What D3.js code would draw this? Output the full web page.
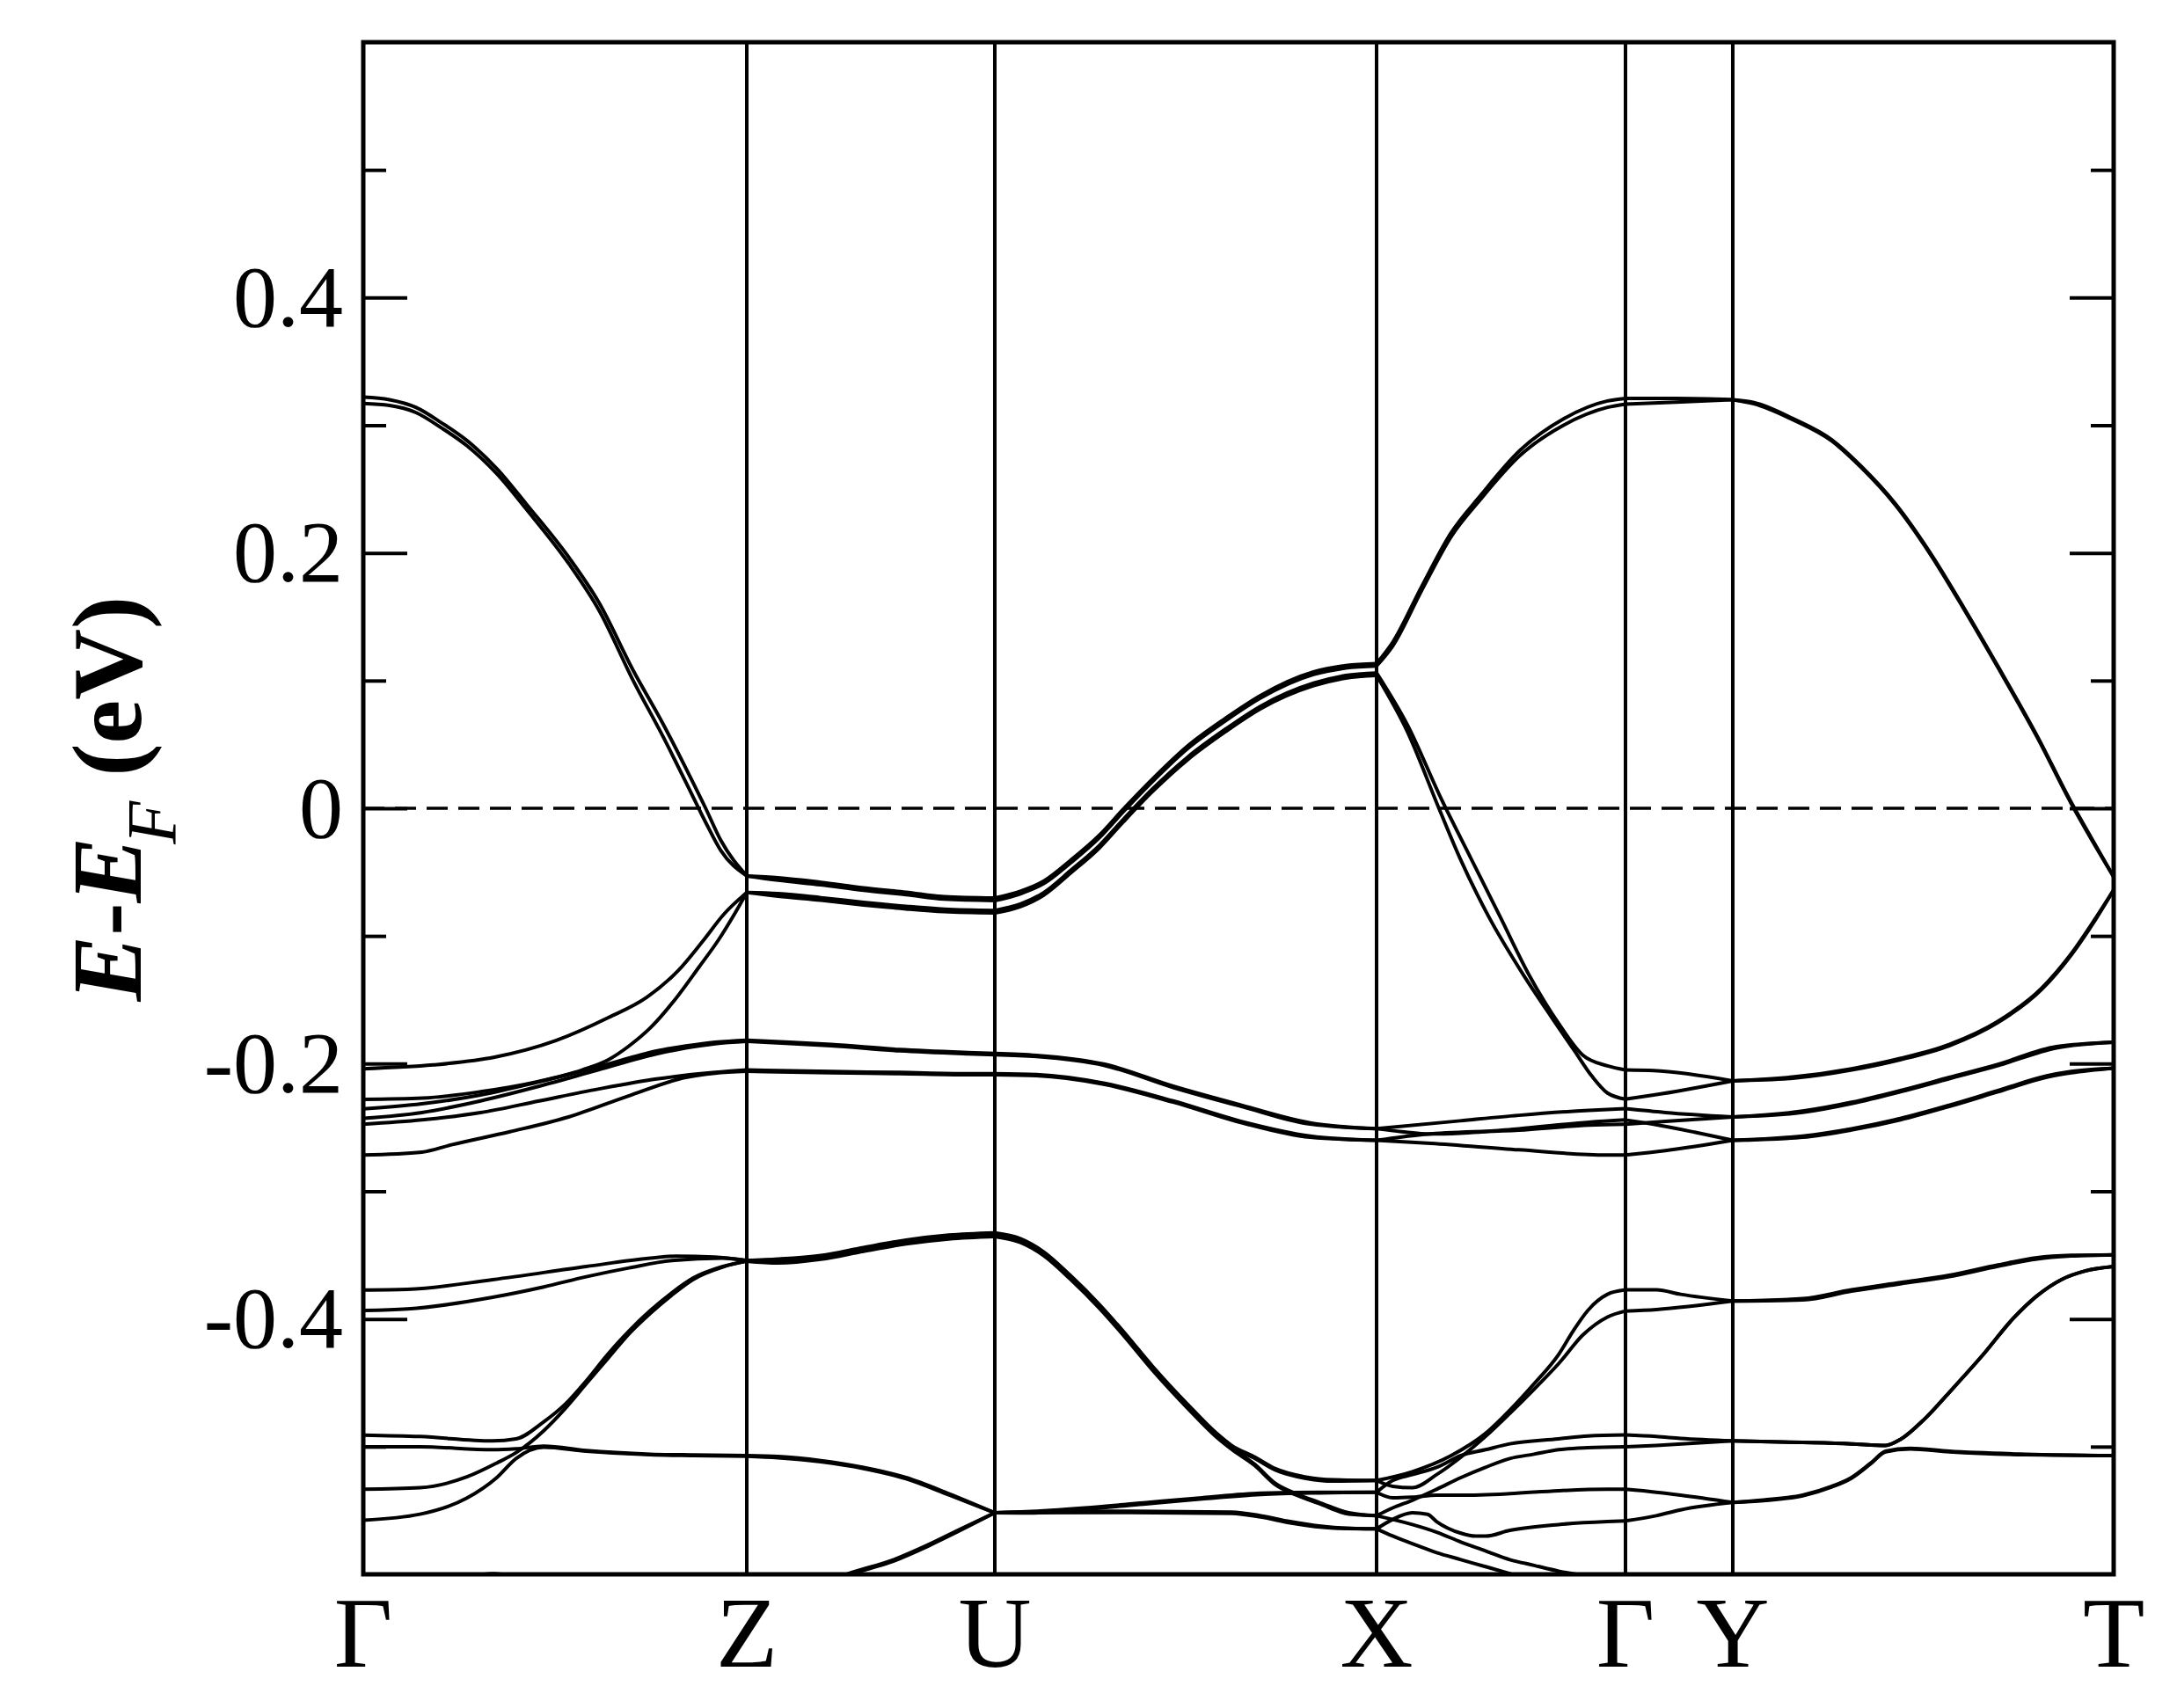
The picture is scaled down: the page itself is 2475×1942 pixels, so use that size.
<!DOCTYPE html>
<html><head><meta charset="utf-8">
<script src="https://cdn.jsdelivr.net/npm/d3@7"></script>
<style>html,body{margin:0;padding:0;background:#fff;} svg{display:block;}</style>
</head><body>
<svg id="chart" width="2475" height="1942"></svg>
<script>
// ---- data ----
const kPoints = [0, 0.2191, 0.3608, 0.5789, 0.7211, 0.7824, 1.0];
const kLabels = ["\u0393", "Z", "U", "X", "\u0393", "Y", "T"];
const energyRange = [-0.6, 0.6];
const yMajorTicks = [-0.6, -0.4, -0.2, 0, 0.2, 0.4, 0.6];
const yLabelTicks = [-0.4, -0.2, 0, 0.2, 0.4];
const yTickLabels = ["-0.4", "-0.2", "0", "0.2", "0.4"];
const yMinorTicks = [-0.5, -0.3, -0.1, 0.1, 0.3, 0.5];
const fermiLevel = 0;

const band01 = [[0,0.322],[0.015,0.320],[0.030,0.314],[0.0446,0.302],[0.0592,0.288],[0.0763,0.266],[0.0933,0.238],[0.1177,0.196],[0.1347,0.161],[0.1542,0.108],[0.1713,0.066],[0.1859,0.027],[0.1956,0.0],[0.2042,-0.025],[0.2191,-0.053],
[0.237,-0.0544],[0.2614,-0.058],[0.2858,-0.0623],[0.3101,-0.0657],[0.332,-0.0692],[0.3608,-0.0703],
[0.3754,-0.065],[0.3888,-0.057],[0.4039,-0.041],[0.4206,-0.021],[0.434,-0.001],[0.4508,0.0228],[0.4709,0.0487],[0.4926,0.0705],[0.5127,0.0884],[0.5429,0.1068],[0.5613,0.1118],[0.5789,0.1134],
[0.5881,0.130],[0.6048,0.174],[0.6216,0.216],[0.6383,0.245],[0.6606,0.280],[0.6857,0.305],[0.7108,0.319],[0.7211,0.321],
[0.75,0.321],[0.7824,0.320],
[0.7945,0.3178],[0.8167,0.3053],[0.839,0.2886],[0.8558,0.2678],[0.8753,0.2385],[0.8948,0.2009],[0.9144,0.1571],[0.9339,0.1112],[0.9562,0.0569],[0.9757,0.0048],[0.9869,-0.0224],[1.0,-0.0537]];

const band02 = [[0,0.317],[0.015,0.3155],[0.030,0.310],[0.0446,0.298],[0.0592,0.284],[0.0763,0.262],[0.0933,0.234],[0.1177,0.191],[0.1347,0.155],[0.1542,0.100],[0.1713,0.056],[0.1859,0.016],[0.1956,-0.011],[0.2042,-0.033],[0.2191,-0.053],
[0.237,-0.0564],[0.2614,-0.060],[0.2858,-0.0643],[0.3101,-0.0677],[0.332,-0.0712],[0.3608,-0.0723],
[0.3754,-0.067],[0.3888,-0.059],[0.4039,-0.043],[0.4206,-0.023],[0.434,-0.003],[0.4508,0.0208],[0.4709,0.0467],[0.4926,0.0685],[0.5127,0.0864],[0.5429,0.1048],[0.5613,0.1098],[0.5789,0.1114],
[0.5881,0.127],[0.6048,0.171],[0.6216,0.213],[0.6383,0.242],[0.6606,0.276],[0.6857,0.300],[0.7108,0.314],[0.7211,0.3166],
[0.75,0.318],[0.7824,0.320],
[0.7945,0.3168],[0.8167,0.3043],[0.839,0.2876],[0.8558,0.2668],[0.8753,0.2375],[0.8948,0.1999],[0.9144,0.1561],[0.9339,0.1102],[0.9562,0.0559],[0.9757,0.0038],[0.9869,-0.0234],[1.0,-0.0537]];

const band03 = [[0,-0.204],[0.04,-0.201],[0.075,-0.195],[0.11,-0.182],[0.14,-0.164],[0.162,-0.148],[0.18,-0.127],[0.194,-0.104],[0.206,-0.083],[0.2191,-0.066],
[0.237,-0.0669],[0.2614,-0.070],[0.2858,-0.0737],[0.3101,-0.0768],[0.332,-0.079],[0.3608,-0.080],
[0.3754,-0.075],[0.3888,-0.066],[0.4039,-0.049],[0.4206,-0.029],[0.434,-0.009],[0.4508,0.015],[0.4709,0.040],[0.4926,0.062],[0.5127,0.080],[0.5429,0.098],[0.5613,0.104],[0.5789,0.106],
[0.5965,0.0653],[0.616,0.0069],[0.6327,-0.039],[0.6495,-0.085],[0.6662,-0.131],[0.6829,-0.1685],[0.6969,-0.1936],[0.7108,-0.2018],[0.7211,-0.205],
[0.7372,-0.2055],[0.7824,-0.2135],
[0.8166,-0.2105],[0.8503,-0.204],[0.8779,-0.196],[0.906,-0.185],[0.9337,-0.167],[0.9588,-0.141],[0.9757,-0.114],[0.9897,-0.086],[1.0,-0.064]];

const band04 = [[0,-0.228],[0.034,-0.227],[0.067,-0.222],[0.100,-0.214],[0.125,-0.205],[0.140,-0.197],[0.152,-0.186],[0.164,-0.172],[0.178,-0.150],[0.192,-0.124],[0.203,-0.103],[0.212,-0.083],[0.2191,-0.066],
[0.237,-0.0689],[0.2614,-0.072],[0.2858,-0.0757],[0.3101,-0.0788],[0.332,-0.081],[0.3608,-0.082],
[0.3754,-0.077],[0.3888,-0.068],[0.4039,-0.051],[0.4206,-0.031],[0.434,-0.011],[0.4508,0.013],[0.4709,0.038],[0.4926,0.060],[0.5127,0.078],[0.5429,0.096],[0.5613,0.102],[0.5789,0.104],
[0.5965,0.060],[0.6145,0.0],[0.6265,-0.039],[0.643,-0.085],[0.663,-0.131],[0.679,-0.164],[0.692,-0.190],[0.702,-0.210],[0.7108,-0.223],[0.7211,-0.2278],
[0.7372,-0.2246],[0.7824,-0.2135],
[0.8166,-0.2115],[0.8503,-0.205],[0.8779,-0.197],[0.906,-0.186],[0.9337,-0.168],[0.9588,-0.142],[0.9757,-0.115],[0.9897,-0.087],[1.0,-0.064]];

const band05 = [[0,-0.2354],[0.0335,-0.2315],[0.067,-0.2246],[0.1005,-0.2142],[0.134,-0.2027],[0.1675,-0.1901],[0.1843,-0.1862],[0.201,-0.1832],[0.2191,-0.1816],
[0.2437,-0.1832],[0.2672,-0.185],[0.3063,-0.189],[0.3454,-0.1913],[0.3608,-0.192],
[0.3845,-0.1935],[0.4236,-0.2005],[0.4627,-0.2177],[0.5018,-0.2326],[0.541,-0.2464],[0.5789,-0.251],
[0.6266,-0.2448],[0.6601,-0.2405],[0.7003,-0.2366],[0.7211,-0.2353],
[0.7439,-0.2383],[0.7824,-0.2418],
[0.8223,-0.2372],[0.8502,-0.2303],[0.8781,-0.2211],[0.906,-0.2108],[0.9339,-0.2005],[0.9673,-0.1867],[1.0,-0.1832]];

const band06 = [[0,-0.2429],[0.0335,-0.2383],[0.067,-0.2292],[0.1005,-0.2177],[0.134,-0.205],[0.1675,-0.1924],[0.1843,-0.1878],[0.201,-0.1844],[0.2191,-0.1826],
[0.2437,-0.1842],[0.2672,-0.186],[0.3063,-0.190],[0.3454,-0.1923],[0.3608,-0.193],
[0.3845,-0.1945],[0.4236,-0.2015],[0.4627,-0.2187],[0.5018,-0.2336],[0.541,-0.2474],[0.5789,-0.251],
[0.5932,-0.2533],[0.6099,-0.2551],[0.6266,-0.2545],[0.6601,-0.251],[0.7003,-0.2459],[0.7211,-0.2441],
[0.7372,-0.2475],[0.7605,-0.2537],[0.7824,-0.2601],
[0.8223,-0.2567],[0.8502,-0.251],[0.8781,-0.243],[0.906,-0.2326],[0.9339,-0.2211],[0.9618,-0.2096],[0.9757,-0.2062],[1.0,-0.2035]];

const band07 = [[0,-0.2475],[0.0335,-0.2441],[0.067,-0.2384],[0.1005,-0.2292],[0.134,-0.22],[0.1675,-0.212],[0.201,-0.2069],[0.2191,-0.205],
[0.2672,-0.2062],[0.3063,-0.2069],[0.3454,-0.2078],[0.3608,-0.2078],
[0.3845,-0.2085],[0.4236,-0.2154],[0.4627,-0.2292],[0.5018,-0.2453],[0.541,-0.2567],[0.5789,-0.2601],
[0.5932,-0.2574],[0.6099,-0.2551],[0.6601,-0.2521],[0.7003,-0.2482],[0.7211,-0.2475],
[0.7439,-0.2452],[0.7824,-0.2418],
[0.8223,-0.2382],[0.8502,-0.2313],[0.8781,-0.2221],[0.906,-0.2118],[0.9339,-0.2015],[0.9673,-0.1877],[1.0,-0.1832]];

const band08 = [[0,-0.2716],[0.0335,-0.2693],[0.0503,-0.2636],[0.0838,-0.2533],[0.1173,-0.2418],[0.1508,-0.2257],[0.1843,-0.2108],[0.201,-0.2075],[0.2191,-0.206],
[0.2672,-0.2072],[0.3063,-0.2079],[0.3454,-0.2088],[0.3608,-0.2088],
[0.3845,-0.2095],[0.4236,-0.2164],[0.4627,-0.2302],[0.5018,-0.2463],[0.541,-0.2577],[0.5789,-0.2601],
[0.6099,-0.2624],[0.6601,-0.2675],[0.7104,-0.2716],[0.7211,-0.2716],
[0.7439,-0.2682],[0.7824,-0.2601],
[0.8223,-0.2577],[0.8502,-0.252],[0.8781,-0.244],[0.906,-0.2336],[0.9339,-0.2221],[0.9618,-0.2106],[0.9757,-0.2072],[1.0,-0.2035]];

const band09 = [[0,-0.3773],[0.0252,-0.3768],[0.0739,-0.3692],[0.1274,-0.3589],[0.164,-0.3524],[0.1786,-0.3508],[0.2005,-0.3515],[0.2191,-0.3543],
[0.237,-0.3531],[0.2614,-0.3502],[0.2858,-0.344],[0.3101,-0.3382],[0.3345,-0.3343],[0.3608,-0.3325],
[0.3754,-0.3371],[0.3887,-0.3474],[0.4039,-0.3658],[0.4206,-0.3887],[0.434,-0.4094],[0.4508,-0.4369],[0.4709,-0.4668],[0.4876,-0.4897],[0.496,-0.499],[0.5094,-0.5082],[0.5211,-0.5173],[0.5379,-0.5237],[0.5546,-0.526],[0.5789,-0.5265],
[0.5993,-0.5196],[0.6215,-0.507],[0.6411,-0.4897],[0.655,-0.4714],[0.6689,-0.4507],[0.6829,-0.4278],[0.6912,-0.4094],[0.6996,-0.3933],[0.7108,-0.3807],[0.7211,-0.3772],
[0.7387,-0.3772],[0.7526,-0.3807],[0.7824,-0.386],
[0.8223,-0.3841],[0.8502,-0.3772],[0.8781,-0.3715],[0.906,-0.3658],[0.9339,-0.3577],[0.9562,-0.352],[0.9757,-0.3502],[1.0,-0.3497]];

const band10 = [[0,-0.3934],[0.0252,-0.3922],[0.0739,-0.383],[0.1031,-0.3749],[0.1274,-0.3669],[0.1518,-0.36],[0.1762,-0.3543],[0.2054,-0.3524],[0.2191,-0.3543],
[0.237,-0.3541],[0.2614,-0.3512],[0.2858,-0.345],[0.3101,-0.3392],[0.3345,-0.3353],[0.3608,-0.3335],
[0.3754,-0.3381],[0.3887,-0.3484],[0.4039,-0.3668],[0.4206,-0.3897],[0.434,-0.4104],[0.4508,-0.4379],[0.4709,-0.4678],[0.4876,-0.4907],[0.496,-0.5],[0.5094,-0.5092],[0.5211,-0.5183],[0.5379,-0.5247],[0.5546,-0.527],[0.5789,-0.5265],
[0.5881,-0.5311],[0.5993,-0.5322],[0.6132,-0.5219],[0.6271,-0.5082],[0.6411,-0.4921],[0.655,-0.474],[0.6689,-0.455],[0.6829,-0.435],[0.6968,-0.4125],[0.7108,-0.3985],[0.7211,-0.3938],
[0.7387,-0.3926],[0.7824,-0.386],
[0.8223,-0.3851],[0.8502,-0.3782],[0.8781,-0.3725],[0.906,-0.3668],[0.9339,-0.3587],[0.9562,-0.353],[0.9757,-0.3507],[1.0,-0.3497]];

const band11 = [[0,-0.4909],[0.0324,-0.4921],[0.0739,-0.4955],[0.0873,-0.4939],[0.1031,-0.4806],[0.1153,-0.4668],[0.1274,-0.4484],[0.1396,-0.4278],[0.1518,-0.4094],[0.164,-0.3934],[0.1762,-0.3796],[0.1883,-0.3681],[0.2054,-0.3589],[0.2191,-0.3547],
[0.237,-0.3551],[0.2614,-0.3522],[0.2858,-0.346],[0.3101,-0.3402],[0.3345,-0.3363],[0.3608,-0.3345],
[0.3754,-0.3391],[0.3887,-0.3494],[0.4039,-0.3678],[0.4206,-0.3907],[0.434,-0.4114],[0.4508,-0.4389],[0.4709,-0.4688],[0.4876,-0.4917],[0.496,-0.501],[0.5094,-0.5139],[0.5211,-0.5288],[0.5328,-0.5368],[0.5462,-0.5437],[0.563,-0.5518],[0.5789,-0.5541],
[0.5881,-0.548],[0.5993,-0.542],[0.6132,-0.5334],[0.6271,-0.5242],[0.6411,-0.5162],[0.655,-0.5093],[0.6689,-0.5059],[0.6829,-0.5024],[0.6996,-0.5008],[0.7211,-0.5001],
[0.7387,-0.499],[0.7824,-0.4955],
[0.8223,-0.4967],[0.8502,-0.4978],[0.8697,-0.499],[0.8781,-0.4944],[0.892,-0.4783],[0.906,-0.4576],[0.9255,-0.4278],[0.9422,-0.4002],[0.9562,-0.3819],[0.9701,-0.3692],[0.9841,-0.3623],[1.0,-0.3589]];

const band12 = [[0,-0.5334],[0.0324,-0.5322],[0.0592,-0.5237],[0.0763,-0.5128],[0.0873,-0.5047],[0.1031,-0.4875],[0.1153,-0.4702],[0.1274,-0.4507],[0.1396,-0.4312],[0.1518,-0.4117],[0.164,-0.3956],[0.1762,-0.3814],[0.1883,-0.3692],[0.2054,-0.3593],[0.2191,-0.3547],
[0.237,-0.3561],[0.2614,-0.3532],[0.2858,-0.347],[0.3101,-0.3412],[0.3345,-0.3373],[0.3608,-0.3355],
[0.3754,-0.3401],[0.3887,-0.3504],[0.4039,-0.3688],[0.4206,-0.3917],[0.434,-0.4124],[0.4508,-0.4399],[0.4709,-0.4698],[0.4876,-0.4927],[0.496,-0.502],[0.5094,-0.5149],[0.5211,-0.5298],[0.5328,-0.5378],[0.5462,-0.5447],[0.563,-0.5528],[0.5789,-0.5541],
[0.5993,-0.561],[0.6132,-0.567],[0.6271,-0.5747],[0.6411,-0.5816],[0.655,-0.5885],[0.6689,-0.593],[0.6829,-0.5975],[0.6968,-0.601],[0.71,-0.605]];

const band13 = [[0,-0.5001],[0.0324,-0.5001],[0.0739,-0.5024],[0.0873,-0.5017],[0.1031,-0.4996],[0.1274,-0.5031],[0.164,-0.5059],[0.1883,-0.5065],[0.2191,-0.507],
[0.237,-0.5077],[0.2614,-0.5109],[0.2858,-0.5162],[0.3101,-0.5242],[0.3345,-0.5368],[0.3608,-0.5518],
[0.3787,-0.551],[0.4122,-0.548],[0.4457,-0.544],[0.4792,-0.54],[0.5127,-0.5365],[0.5462,-0.5357],[0.5789,-0.5357],
[0.5881,-0.5265],[0.5993,-0.5219],[0.6132,-0.5162],[0.6271,-0.507],[0.6411,-0.5024],[0.655,-0.4978],[0.6829,-0.4939],[0.6996,-0.4916],[0.7211,-0.4909],
[0.7387,-0.4921],[0.7526,-0.4935],[0.7824,-0.4955],
[0.8223,-0.4967],[0.8502,-0.4978],[0.8697,-0.499],[0.8781,-0.4944],[0.892,-0.4783],[0.906,-0.4576],[0.9255,-0.4278],[0.9422,-0.4002],[0.9562,-0.3819],[0.9701,-0.3692],[0.9841,-0.3623],[1.0,-0.3589]];

const band14 = [[0,-0.5576],[0.0324,-0.5529],[0.0592,-0.5403],[0.0763,-0.5242],[0.0873,-0.5093],[0.1031,-0.5005],[0.1274,-0.5036],[0.164,-0.5064],[0.1883,-0.507],[0.2191,-0.5075],
[0.237,-0.5087],[0.2614,-0.5119],[0.2858,-0.5172],[0.3101,-0.5252],[0.3345,-0.5378],[0.3608,-0.5518],
[0.4289,-0.5506],[0.496,-0.5513],[0.5127,-0.5541],[0.5295,-0.5587],[0.5546,-0.5633],[0.5789,-0.5644],
[0.5881,-0.57],[0.5993,-0.576],[0.6132,-0.583],[0.6271,-0.5885],[0.6411,-0.594],[0.655,-0.5995],[0.665,-0.604]];

const band15 = [[0.255,-0.612],[0.2762,-0.6],[0.3031,-0.5885],[0.3225,-0.577],[0.3396,-0.5656],[0.3608,-0.5518],
[0.3787,-0.552],[0.4122,-0.549],[0.4457,-0.545],[0.4792,-0.541],[0.5127,-0.5375],[0.5462,-0.5362],[0.5789,-0.5357],
[0.5881,-0.540],[0.5993,-0.5395],[0.6132,-0.538],[0.6271,-0.538],[0.655,-0.5368],[0.6829,-0.5345],[0.7108,-0.5334],[0.7211,-0.5334],
[0.7387,-0.5357],[0.7526,-0.538],[0.7824,-0.5437],
[0.8,-0.5418],[0.8223,-0.538],[0.839,-0.5311],[0.8502,-0.5242],[0.8613,-0.5128],[0.8697,-0.5036],[0.8836,-0.5013],[0.906,-0.5036],[0.95,-0.5059],[1.0,-0.507]];

const band16 = [[0.255,-0.613],[0.2762,-0.601],[0.3031,-0.5895],[0.3225,-0.578],[0.3396,-0.5666],[0.3608,-0.5518],
[0.4289,-0.5516],[0.496,-0.5523],[0.5127,-0.5551],[0.5295,-0.5597],[0.5546,-0.5638],[0.5789,-0.5644],
[0.5881,-0.557],[0.5993,-0.5518],[0.608,-0.553],[0.6132,-0.5587],[0.6271,-0.5678],[0.6355,-0.5701],[0.6411,-0.5701],[0.655,-0.5656],[0.6829,-0.561],[0.7108,-0.5587],[0.7211,-0.5582],
[0.7387,-0.5541],[0.7526,-0.5495],[0.7824,-0.5437],
[0.8,-0.5423],[0.8223,-0.5385],[0.839,-0.5316],[0.8502,-0.5247],[0.8613,-0.5133],[0.8697,-0.5041],[0.8836,-0.5018],[0.906,-0.5041],[0.95,-0.5064],[1.0,-0.507]];

const band17 = [[0.05,-0.607],[0.074,-0.5995],[0.098,-0.607]];

const bands = [band01, band02, band03, band04, band05, band06, band07, band08, band09,
               band10, band11, band12, band13, band14, band15, band16, band17];

// ---- drawing ----
const FONT = "'Liberation Serif','Times New Roman',Times,serif";
const plot = {left: 413, right: 2403, top: 48, bottom: 1790};
const svg = d3.select("#chart");
svg.append("rect").attr("width", 2475).attr("height", 1942).attr("fill", "#fff");

const x = d3.scaleLinear().domain([kPoints[0], kPoints[kPoints.length - 1]]).range([plot.left, plot.right]);
const y = d3.scaleLinear().domain(energyRange).range([plot.bottom, plot.top]);

svg.append("defs").append("clipPath").attr("id", "clip")
  .append("rect").attr("x", plot.left).attr("y", plot.top)
  .attr("width", plot.right - plot.left).attr("height", plot.bottom - plot.top);

const g = svg.append("g").attr("clip-path", "url(#clip)");

// Fermi level
g.append("line")
  .attr("x1", x(kPoints[0])).attr("x2", x(kPoints[kPoints.length - 1]))
  .attr("y1", y(fermiLevel)).attr("y2", y(fermiLevel))
  .attr("stroke", "#000").attr("stroke-width", 3.5).attr("stroke-dasharray", "24,12");

// split each band at the high-symmetry points
function splitBand(band) {
  const segs = [];
  let cur = [];
  band.forEach((p, i) => {
    cur.push(p);
    const isKP = kPoints.some((kp, j) => j > 0 && j < kPoints.length - 1 && Math.abs(kp - p[0]) < 1e-4);
    if (isKP && i > 0 && i < band.length - 1) { segs.push(cur); cur = [p]; }
  });
  if (cur.length > 1) segs.push(cur);
  return segs;
}

const line = d3.line().x(d => x(d[0])).y(d => y(d[1])).curve(d3.curveMonotoneX);
bands.forEach(b => {
  splitBand(b).forEach(seg => {
    g.append("path").attr("d", line(seg)).attr("fill", "none")
      .attr("stroke", "#000").attr("stroke-width", 4).attr("stroke-linejoin", "round");
  });
});

// high-symmetry vertical lines
svg.append("g").selectAll("line").data(kPoints.slice(1, -1)).join("line")
  .attr("x1", d => x(d)).attr("x2", d => x(d))
  .attr("y1", plot.top).attr("y2", plot.bottom)
  .attr("stroke", "#000").attr("stroke-width", 4);

// axes ticks (inward, both sides)
function styleAxis(sel) {
  sel.select(".domain").remove();
  sel.selectAll(".tick line").attr("stroke", "#000").attr("stroke-width", 4);
}
const leftMajor = d3.axisLeft(y).tickValues(yLabelTicks).tickSizeInner(-50).tickSizeOuter(0).tickPadding(23)
  .tickFormat((d, i) => yTickLabels[i]);
svg.append("g").attr("transform", `translate(${plot.left},0)`).call(leftMajor).call(styleAxis)
  .selectAll("text").style("font-family", FONT).style("font-size", "100px").attr("fill", "#000");
svg.append("g").attr("transform", `translate(${plot.left},0)`)
  .call(d3.axisLeft(y).tickValues(yMinorTicks).tickSizeInner(-26).tickSizeOuter(0).tickFormat(""))
  .call(styleAxis);
svg.append("g").attr("transform", `translate(${plot.right},0)`)
  .call(d3.axisRight(y).tickValues(yMajorTicks.filter(v => Math.abs(v) < 0.59)).tickSizeInner(-50).tickSizeOuter(0).tickFormat(""))
  .call(styleAxis);
svg.append("g").attr("transform", `translate(${plot.right},0)`)
  .call(d3.axisRight(y).tickValues(yMinorTicks).tickSizeInner(-26).tickSizeOuter(0).tickFormat(""))
  .call(styleAxis);

// frame
svg.append("rect").attr("x", plot.left).attr("y", plot.top)
  .attr("width", plot.right - plot.left).attr("height", plot.bottom - plot.top)
  .attr("fill", "none").attr("stroke", "#000").attr("stroke-width", 5);

// k-point labels
svg.append("g").selectAll("text").data(kPoints).join("text")
  .attr("x", d => x(d)).attr("y", 1895)
  .attr("text-anchor", "middle")
  .style("font-family", FONT).style("font-size", "115px").attr("fill", "#000")
  .text((d, i) => kLabels[i]);

// y-axis title
const title = svg.append("text")
  .attr("transform", "translate(160,908) rotate(-90)")
  .attr("text-anchor", "middle")
  .style("font-family", FONT).style("font-size", "112px").style("font-weight", "bold").attr("fill", "#000");
title.append("tspan").style("font-style", "italic").text("E");
title.append("tspan").text("-");
title.append("tspan").style("font-style", "italic").text("E");
title.append("tspan").style("font-style", "italic").style("font-weight", "normal").style("font-size", "80px")
  .attr("dx", "-8").attr("dy", "40").text("F");
title.append("tspan").attr("dy", "-40").text("\u00a0(eV)");
</script>
</body></html>
